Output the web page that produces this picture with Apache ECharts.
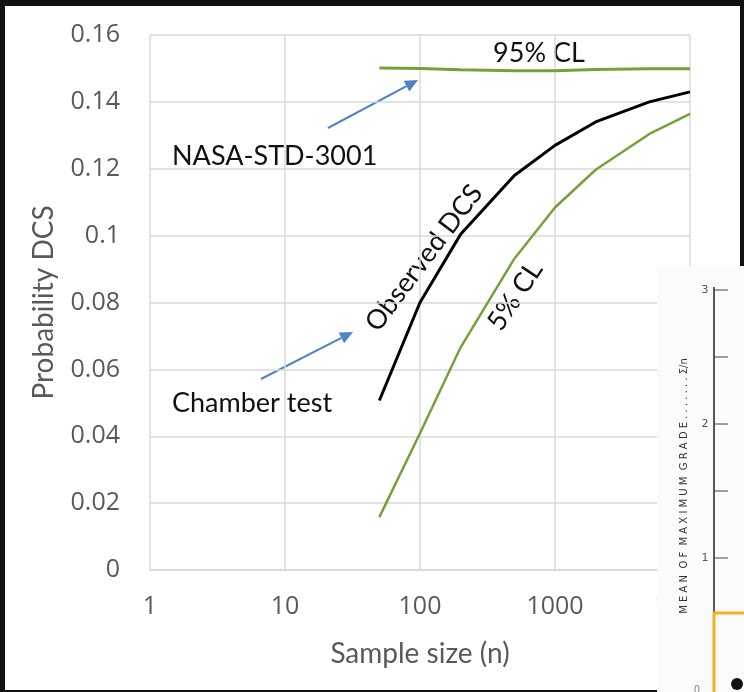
<!DOCTYPE html>
<html>
<head>
<meta charset="utf-8">
<script src="https://cdn.jsdelivr.net/npm/echarts@6/dist/echarts.min.js"></script>
<style>
  html, body { margin: 0; padding: 0; background: #111; }
  #paper { position: absolute; left: 5px; top: 6px; width: 735px; height: 684px; background: #fff; }
  #chart { position: absolute; left: 0; top: 0; width: 744px; height: 692px; }
</style>
</head>
<body>
<div id="paper"></div>
<div id="chart"></div>
<script>
// sample sizes (n) on the log axis
const sampleSizes = [50, 100, 200, 500, 1000, 2000, 5000, 10000];
// upper confidence limit (NASA-STD-3001 line)
const cl95 = [0.1501, 0.1500, 0.1496, 0.1493, 0.1493, 0.1497, 0.1499, 0.1499];
// observed DCS probability (chamber tests)
const observed = [0.0507, 0.0800, 0.1004, 0.1180, 0.1270, 0.1340, 0.1400, 0.1430];
// lower confidence limit
const cl5 = [0.0158, 0.0409, 0.0666, 0.0931, 0.1084, 0.1197, 0.1304, 0.1364];

const xTickLabels = ['1', '10', '100', '1000', '10000'];
const yTickLabels = ['0', '0.02', '0.04', '0.06', '0.08', '0.1', '0.12', '0.14', '0.16'];

const green = '#74a23a';
const gridGray = '#d9d9d9';
const textGray = '#595959';
const arrowBlue = '#4f84c4';

function pairs(ys) {
  return sampleSizes.map((n, i) => [n, ys[i]]);
}

// blue annotation arrow: shaft + triangle head
function arrow(x1, y1, x2, y2) {
  const a = Math.atan2(y2 - y1, x2 - x1);
  const len = 13, half = 6;
  const bx = x2 - len * Math.cos(a), by = y2 - len * Math.sin(a);
  const px = -Math.sin(a) * half, py = Math.cos(a) * half;
  return [
    { type: 'line', shape: { x1, y1, x2: bx, y2: by }, style: { stroke: arrowBlue, lineWidth: 2 } },
    { type: 'polygon', shape: { points: [[x2, y2], [bx + px, by + py], [bx - px, by - py]] }, style: { fill: arrowBlue } }
  ];
}

function label(text, x, y, deg, align) {
  return {
    type: 'text', x, y, rotation: (deg || 0) * Math.PI / 180,
    style: { text, x: 0, y: 0, align: align || 'center', verticalAlign: 'middle', fill: '#111', font: '27px Lato' }
  };
}

// scanned figure pasted over the bottom-right corner of the screenshot
const overlayTicks = [290, 357, 424, 491, 558];
const overlay = [
  { type: 'rect', z: 100, shape: { x: 657, y: 266, width: 90, height: 430 }, style: { fill: '#fbfbfb' } },
  { type: 'line', z: 101, shape: { x1: 714, y1: 287, x2: 714, y2: 692 }, style: { stroke: '#222', lineWidth: 1.5 } },
  ...overlayTicks.map(y => ({ type: 'line', z: 101, shape: { x1: 714, y1: y, x2: 728, y2: y }, style: { stroke: '#444', lineWidth: 1 } })),
  ...[['3', 290], ['2', 424], ['1', 558]].map(([t, y]) => ({
    type: 'text', z: 101, style: { text: t, x: 705, y, align: 'center', verticalAlign: 'middle', fill: '#555', font: '11px "DejaVu Sans"' }
  })),
  { type: 'text', z: 101, x: 684, y: 486, rotation: Math.PI / 2,
    style: { text: 'M E A N  O F  M A X I M U M  G R A D E . . . . . . . Σ/n', x: 0, y: 0, align: 'center', verticalAlign: 'middle', fill: '#333', font: '10px "DejaVu Sans"' } },
  { type: 'rect', z: 101, shape: { x: 714, y: 613, width: 40, height: 90 }, style: { fill: 'none', stroke: '#f3b128', lineWidth: 3 } },
  { type: 'circle', z: 102, shape: { cx: 737, cy: 684, r: 6 }, style: { fill: '#111' } },
  { type: 'text', z: 101, style: { text: '0', x: 697, y: 690, align: 'center', verticalAlign: 'middle', fill: '#888', font: '10px "DejaVu Sans"' } }
];

const chart = echarts.init(document.getElementById('chart'), null, { renderer: 'canvas' });

chart.setOption({
  animation: false,
  backgroundColor: 'transparent',
  grid: { left: 150, right: 54, top: 35, bottom: 122 },
  xAxis: {
    type: 'log',
    logBase: 10,
    min: 1,
    max: 10000,
    name: 'Sample size (n)',
    nameLocation: 'middle',
    nameGap: 70,
    nameTextStyle: { color: textGray, fontSize: 28, fontFamily: 'Lato' },
    axisLine: { lineStyle: { color: gridGray, width: 1.5 } },
    axisTick: { show: false },
    axisLabel: {
      color: textGray, fontSize: 25, fontFamily: 'Open Sans', margin: 24,
      formatter: v => xTickLabels[Math.round(Math.log10(v))]
    },
    splitLine: { show: true, lineStyle: { color: gridGray, width: 1.5 } },
    minorSplitLine: { show: false }
  },
  yAxis: {
    type: 'value',
    min: 0,
    max: 0.16,
    interval: 0.02,
    name: 'Probability DCS',
    nameLocation: 'middle',
    nameGap: 92,
    nameTextStyle: { color: textGray, fontSize: 28, fontFamily: 'Lato' },
    axisLine: { show: false },
    axisTick: { show: false },
    axisLabel: {
      color: textGray, fontSize: 25, fontFamily: 'Open Sans', margin: 30,
      formatter: v => yTickLabels[Math.round(v / 0.02)]
    },
    splitLine: { lineStyle: { color: gridGray, width: 1.5 } }
  },
  series: [
    { name: '95% CL', type: 'line', data: pairs(cl95), showSymbol: false, lineStyle: { color: green, width: 3 } },
    { name: 'Observed DCS', type: 'line', data: pairs(observed), showSymbol: false, lineStyle: { color: '#000', width: 3 } },
    { name: '5% CL', type: 'line', data: pairs(cl5), showSymbol: false, lineStyle: { color: green, width: 2.5 } }
  ],
  graphic: [
    label('95% CL', 539, 53),
    label('NASA-STD-3001', 172, 156, 0, 'left'),
    label('Chamber test', 172, 403, 0, 'left'),
    label('Observed DCS', 424, 258, 53),
    label('5% CL', 515, 296, 56),
    ...arrow(328, 128, 418, 80),
    ...arrow(261, 379, 353, 332),
    ...overlay
  ]
});
</script>
</body>
</html>
